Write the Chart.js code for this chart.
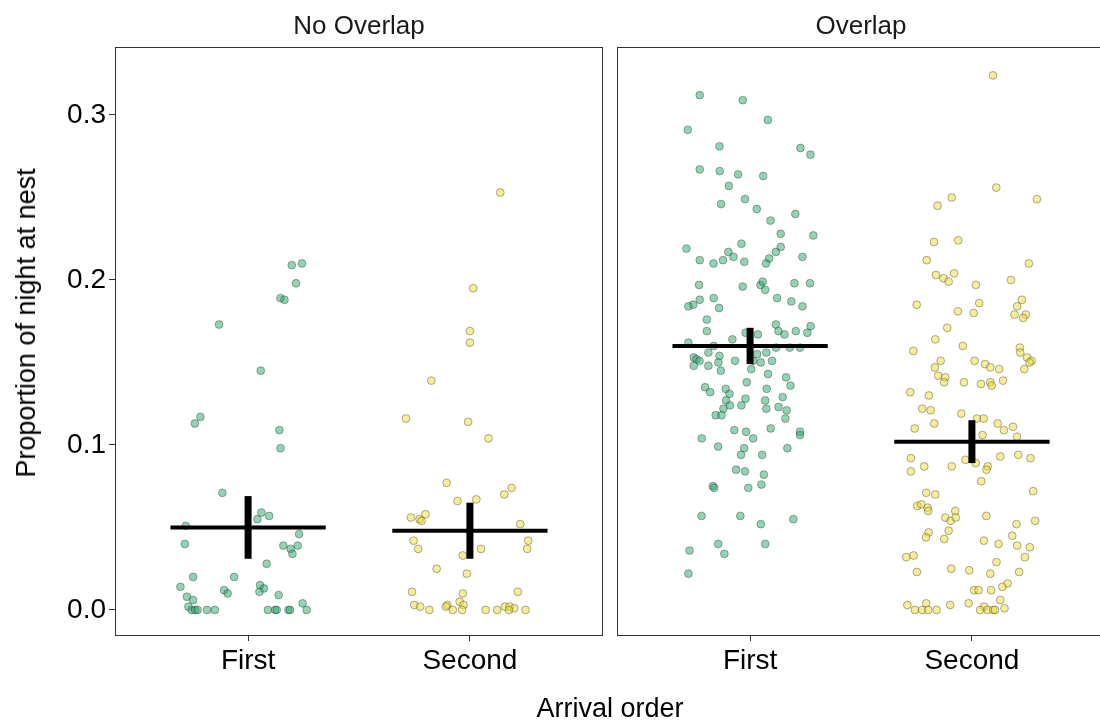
<!DOCTYPE html>
<html>
<head>
<meta charset="utf-8">
<script src="https://cdn.jsdelivr.net/npm/chart.js@4.4.0/dist/chart.umd.min.js"></script>
<style>
    html, body { margin: 0; padding: 0; background: #fff; overflow: hidden; }
    body { width: 1100px; height: 724px; position: relative; }
    canvas { position: absolute; top: 0; }
    .axisTitle {
        position: absolute; font-family: "Liberation Sans", Arial, sans-serif; font-size: 27px;
        color: #000; white-space: nowrap; line-height: 32px;
    }
    #xTitle { left: 610px; top: 692px; transform: translateX(-50%); }
    #yTitle { left: 26px; top: 323px; transform: translate(-50%, -50%) rotate(-90deg); }
</style>
</head>
<body>
<canvas id="panel0" width="604" height="724" style="left:0px"></canvas>
<canvas id="panel1" width="501" height="724" style="left:604px"></canvas>
<div id="xTitle" class="axisTitle">Arrival order</div>
<div id="yTitle" class="axisTitle">Proportion of night at nest</div>
<script>
const panelNames = ['No Overlap', 'Overlap'];
const categories = ['First', 'Second'];
const yTicks = [0, 0.1, 0.2, 0.3];

// [jitter, proportion] per bird
const noOverlapFirst = [
    [0.197, 0.209], [0.243, 0.210], [0.216, 0.198], [0.146, 0.189], [0.164, 0.188], [-0.131, 0.173],
    [0.057, 0.145], [-0.215, 0.117], [-0.240, 0.113], [0.141, 0.109], [0.146, 0.098], [-0.116, 0.071],
    [0.060, 0.059], [0.042, 0.055], [0.095, 0.057], [-0.281, 0.051], [0.230, 0.046], [-0.285, 0.040],
    [0.159, 0.039], [0.224, 0.039], [0.192, 0.037], [0.200, 0.034], [0.084, 0.028], [-0.248, 0.020],
    [-0.063, 0.020], [-0.305, 0.014], [0.054, 0.015], [0.071, 0.013], [0.051, 0.011], [-0.108, 0.012],
    [-0.092, 0.010], [0.138, 0.009], [-0.276, 0.008], [-0.248, 0.006], [0.246, 0.004], [-0.269, 0.002],
    [0.264, 0.000], [-0.254, 0], [-0.239, 0], [-0.228, 0], [-0.185, 0], [-0.150, 0], [0.089, 0],
    [0.122, 0], [0.129, 0], [0.182, 0], [0.189, 0]
];
const noOverlapSecond = [
    [0.137, 0.253], [0.015, 0.195], [0, 0.169], [0, 0.162], [-0.174, 0.139], [-0.288, 0.116],
    [-0.008, 0.114], [0.084, 0.104], [-0.105, 0.077], [0.188, 0.074], [0.155, 0.070], [-0.056, 0.066],
    [0.029, 0.067], [-0.200, 0.058], [-0.266, 0.056], [-0.227, 0.055], [-0.218, 0.054], [0.227, 0.052],
    [-0.254, 0.042], [0.263, 0.042], [-0.233, 0.037], [0.258, 0.037], [0.050, 0.037], [-0.032, 0.033],
    [-0.150, 0.025], [-0.014, 0.022], [-0.261, 0.011], [-0.032, 0.010], [0.216, 0.011], [-0.046, 0.005],
    [-0.251, 0.003], [-0.224, 0.002], [-0.102, 0.003], [-0.108, 0.002], [-0.029, 0.003], [0.158, 0.002],
    [0.179, 0.002], [0.200, 0.001], [-0.183, 0], [-0.077, 0], [-0.035, 0], [0.071, 0], [0.123, 0],
    [0.176, 0], [0.251, 0]
];
const overlapFirst = [
    [-0.227, 0.312], [-0.033, 0.309], [0.080, 0.297], [-0.281, 0.291], [-0.138, 0.281], [0.227, 0.280],
    [0.272, 0.276], [-0.227, 0.267], [-0.137, 0.266], [-0.054, 0.264], [0.059, 0.263], [-0.096, 0.257],
    [-0.023, 0.249], [-0.131, 0.246], [0.030, 0.243], [0.204, 0.240], [0.092, 0.236], [0.138, 0.228],
    [0.285, 0.227], [-0.039, 0.222], [-0.287, 0.219], [0.138, 0.220], [-0.098, 0.217], [0.116, 0.217],
    [-0.075, 0.214], [0.236, 0.214], [0.086, 0.213], [-0.227, 0.212], [-0.122, 0.212], [-0.165, 0.210],
    [-0.026, 0.211], [0.072, 0.210], [-0.230, 0.197], [-0.033, 0.196], [0.047, 0.197], [0.057, 0.199],
    [0.068, 0.194], [0.200, 0.198], [0.270, 0.198], [-0.227, 0.188], [-0.257, 0.185], [-0.278, 0.184],
    [-0.164, 0.189], [-0.140, 0.183], [0.122, 0.189], [0.186, 0.187], [0.236, 0.184], [-0.195, 0.176],
    [-0.195, 0.169], [0.116, 0.173], [0.128, 0.169], [0.155, 0.167], [0.206, 0.169], [0.273, 0.172],
    [0.258, 0.168], [-0.020, 0.168], [0.035, 0.167], [-0.080, 0.164], [-0.278, 0.162], [-0.164, 0.160],
    [0.117, 0.159], [0.179, 0.159], [0.225, 0.159], [-0.188, 0.156], [-0.138, 0.154], [0.032, 0.155],
    [0.073, 0.156], [-0.254, 0.153], [-0.242, 0.152], [-0.228, 0.151], [-0.254, 0.148], [-0.143, 0.150],
    [-0.188, 0.148], [-0.068, 0.151], [0.014, 0.151], [0.048, 0.150], [0.099, 0.151], [-0.132, 0.145],
    [0.005, 0.146], [0.081, 0.143], [0.162, 0.141], [-0.015, 0.138], [0.182, 0.136], [-0.203, 0.135],
    [-0.180, 0.132], [-0.110, 0.134], [-0.093, 0.131], [0.075, 0.134], [-0.108, 0.127], [-0.021, 0.128],
    [0.068, 0.127], [0.147, 0.129], [-0.091, 0.124], [-0.039, 0.124], [-0.120, 0.122], [0.073, 0.122],
    [0.128, 0.123], [0.165, 0.121], [-0.155, 0.118], [-0.129, 0.118], [0.159, 0.116], [-0.071, 0.109],
    [-0.018, 0.108], [0.093, 0.110], [0.225, 0.108], [0.225, 0.106], [-0.218, 0.104], [0.014, 0.104],
    [-0.144, 0.099], [-0.027, 0.098], [-0.041, 0.094], [0.054, 0.094], [0.168, 0.098], [-0.063, 0.085],
    [-0.023, 0.084], [0.062, 0.082], [-0.168, 0.075], [-0.162, 0.074], [-0.008, 0.074], [0.051, 0.076],
    [-0.219, 0.057], [-0.044, 0.057], [0.048, 0.052], [0.195, 0.055], [-0.144, 0.040], [0.068, 0.040],
    [-0.273, 0.036], [-0.116, 0.034], [-0.278, 0.022]
];
const overlapSecond = [
    [0.095, 0.324], [0.110, 0.256], [-0.091, 0.250], [-0.155, 0.245], [0.293, 0.249], [-0.171, 0.223],
    [-0.062, 0.224], [-0.204, 0.212], [0.257, 0.210], [-0.162, 0.203], [-0.128, 0.201], [-0.105, 0.199],
    [-0.080, 0.204], [0.018, 0.197], [0.176, 0.200], [-0.249, 0.185], [-0.063, 0.181], [0.033, 0.186],
    [0.008, 0.180], [0.225, 0.188], [0.204, 0.184], [0.192, 0.179], [0.243, 0.179], [0.231, 0.177],
    [-0.111, 0.171], [-0.165, 0.164], [-0.264, 0.157], [-0.041, 0.160], [0.216, 0.159], [0.218, 0.156],
    [0.249, 0.153], [0.269, 0.151], [0.260, 0.150], [0.236, 0.146], [-0.141, 0.151], [-0.167, 0.147],
    [0.012, 0.151], [0.059, 0.149], [0.083, 0.147], [0.123, 0.146], [-0.152, 0.142], [-0.120, 0.141],
    [-0.125, 0.138], [-0.036, 0.138], [0.041, 0.137], [0.083, 0.138], [0.089, 0.136], [0.140, 0.139],
    [-0.278, 0.132], [-0.194, 0.130], [-0.224, 0.122], [-0.186, 0.121], [-0.048, 0.119], [-0.258, 0.110],
    [-0.170, 0.113], [0.023, 0.116], [0.053, 0.116], [0.116, 0.113], [0.185, 0.111], [0.144, 0.109],
    [0.048, 0.106], [0.203, 0.105], [-0.275, 0.092], [-0.215, 0.087], [-0.275, 0.084], [-0.091, 0.087],
    [-0.029, 0.091], [0.017, 0.089], [0.071, 0.087], [0.066, 0.085], [0.128, 0.093], [0.209, 0.094],
    [0.264, 0.092], [0.042, 0.078], [0.276, 0.072], [-0.206, 0.071], [-0.165, 0.070], [-0.246, 0.063],
    [-0.228, 0.064], [-0.200, 0.062], [-0.197, 0.060], [-0.075, 0.060], [-0.120, 0.056], [-0.096, 0.054],
    [-0.073, 0.056], [0.065, 0.057], [0.285, 0.054], [0.201, 0.052], [-0.195, 0.047], [-0.105, 0.048],
    [-0.207, 0.044], [-0.125, 0.043], [0.182, 0.045], [0.054, 0.042], [0.120, 0.040], [0.204, 0.039],
    [0.261, 0.038], [-0.296, 0.032], [-0.263, 0.033], [0.239, 0.032], [0.111, 0.029], [-0.248, 0.023],
    [-0.093, 0.025], [-0.012, 0.024], [0.083, 0.022], [0.213, 0.023], [0.161, 0.016], [0.137, 0.014],
    [0.010, 0.012], [0.030, 0.012], [0.087, 0.012], [0.128, 0.006], [-0.206, 0.004], [-0.015, 0.004],
    [-0.098, 0.003], [-0.291, 0.003], [0.055, 0.002], [0.147, 0.001], [-0.257, 0], [-0.224, 0],
    [-0.197, 0], [-0.159, 0], [0.037, 0], [0.071, 0], [0.096, 0], [0.104, 0]
];

// group means with their error bars, First then Second
const noOverlapMeans = [0.050, 0.048];
const noOverlapLow = [0.031, 0.031];
const noOverlapHigh = [0.069, 0.065];
const overlapMeans = [0.160, 0.102];
const overlapLow = [0.149, 0.089];
const overlapHigh = [0.171, 0.115];

const yMin = -0.0158;
const yMax = 0.3412;
const fillColors = ['rgba(40, 168, 108, 0.5)', 'rgba(238, 220, 50, 0.5)'];
const fontFamily = '"Liberation Sans", Arial, sans-serif';

// box around each facet plus the strip label above it
const panelFrame = {
    id: 'panelFrame',
    afterDraw(chart) {
        const ctx = chart.ctx;
        const a = chart.chartArea;
        ctx.save();
        ctx.strokeStyle = '#333333';
        ctx.lineWidth = 1;
        ctx.strokeRect(a.left + 0.5, a.top + 0.5, a.right - a.left - 1, a.bottom - a.top - 1);
        ctx.fillStyle = '#1a1a1a';
        ctx.font = '26px ' + fontFamily;
        ctx.textAlign = 'center';
        ctx.textBaseline = 'middle';
        ctx.fillText(chart.options.plugins.panelFrame.text, (a.left + a.right) / 2, 27);
        ctx.restore();
    }
};

function toPoints(pairs, pos) {
    return pairs.map(p => ({ x: pos + p[0], y: p[1] }));
}

function buildPanel(canvasId, name, groups, means, lows, highs, showY) {
    let datasets = [];

    // mean lines and error bars go first so they sit on top of the points
    means.forEach((m, i) => {
        const pos = i + 1;
        datasets.push({
            type: 'line',
            data: [{ x: pos - 0.35, y: m }, { x: pos + 0.35, y: m }],
            borderColor: '#000',
            borderWidth: 4,
            pointRadius: 0
        });
        datasets.push({
            type: 'line',
            data: [{ x: pos, y: lows[i] }, { x: pos, y: highs[i] }],
            borderColor: '#000',
            borderWidth: 7,
            pointRadius: 0
        });
    });

    groups.forEach((g, i) => {
        datasets.push({
            data: toPoints(g, i + 1),
            backgroundColor: fillColors[i],
            borderColor: 'rgba(30, 30, 30, 0.45)',
            borderWidth: 0.8,
            pointRadius: 3.9
        });
    });

    return new Chart(document.getElementById(canvasId), {
        type: 'scatter',
        data: { datasets: datasets },
        options: {
            responsive: false,
            animation: false,
            layout: {
                autoPadding: false,
                padding: { top: 47, left: showY ? 0 : 13, right: showY ? 1 : 0, bottom: 0 }
            },
            plugins: {
                legend: { display: false },
                tooltip: { enabled: false },
                panelFrame: { text: name }
            },
            scales: {
                x: {
                    type: 'linear',
                    min: 0.4,
                    max: 2.6,
                    afterBuildTicks: scale => { scale.ticks = [{ value: 1 }, { value: 2 }]; },
                    afterFit: scale => { scale.height = 88; },
                    grid: { drawOnChartArea: false, tickLength: 5, color: '#333333' },
                    border: { display: false },
                    ticks: {
                        padding: 3,
                        color: '#000',
                        font: { family: fontFamily, size: 28 },
                        callback: v => categories[v - 1]
                    }
                },
                y: {
                    display: showY,
                    min: yMin,
                    max: yMax,
                    afterBuildTicks: scale => { scale.ticks = yTicks.map(v => ({ value: v })); },
                    afterFit: scale => { scale.width = showY ? 115 : 0; },
                    grid: { drawOnChartArea: false, tickLength: 6, color: '#333333' },
                    border: { display: false },
                    ticks: {
                        padding: 3,
                        color: '#000',
                        font: { family: fontFamily, size: 28 },
                        callback: v => v.toFixed(1)
                    }
                }
            }
        },
        plugins: [panelFrame]
    });
}

document.addEventListener('DOMContentLoaded', function () {
    buildPanel('panel0', panelNames[0], [noOverlapFirst, noOverlapSecond],
        noOverlapMeans, noOverlapLow, noOverlapHigh, true);
    buildPanel('panel1', panelNames[1], [overlapFirst, overlapSecond],
        overlapMeans, overlapLow, overlapHigh, false);
});
</script>
</body>
</html>
